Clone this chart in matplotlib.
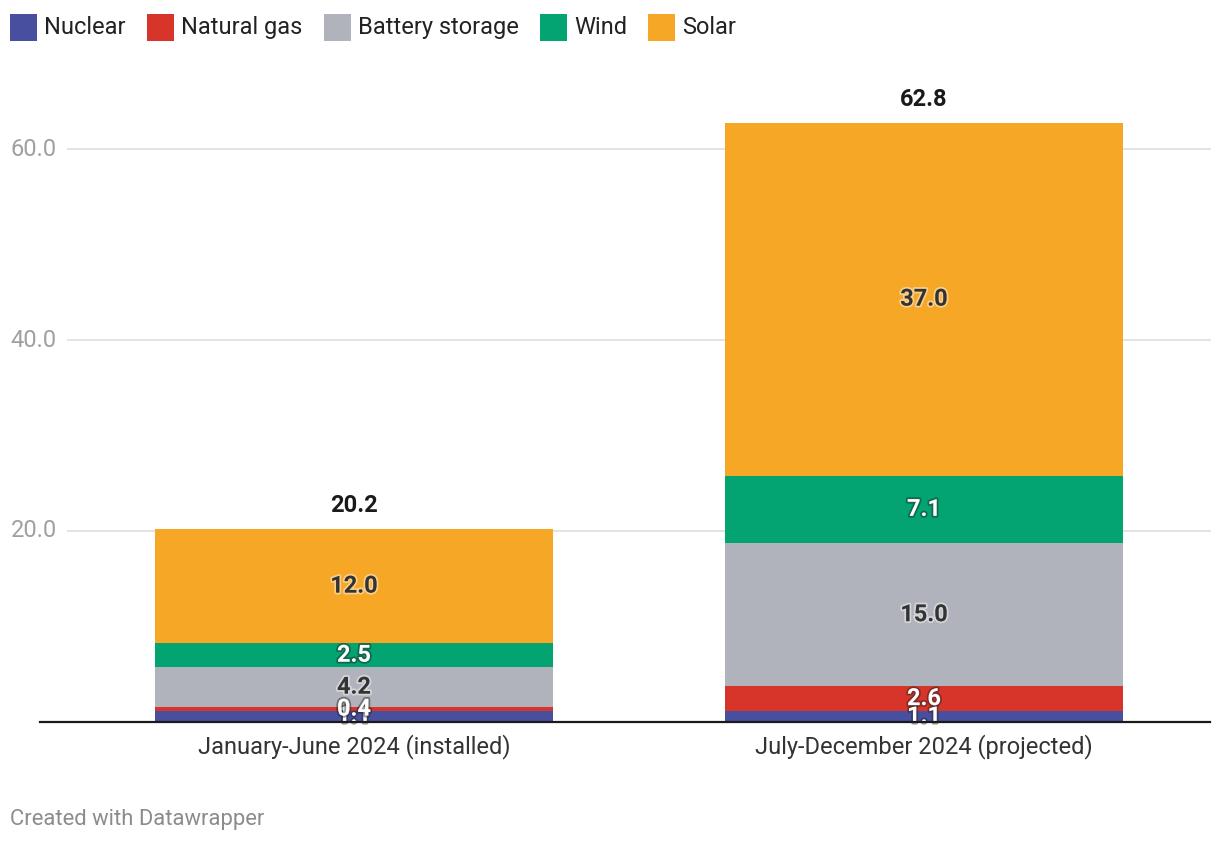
import matplotlib
matplotlib.use("Agg")
import matplotlib.pyplot as plt
import matplotlib.patheffects as pe
from matplotlib.patches import Rectangle
import numpy as np

plt.rcParams['font.family'] = ['Roboto', 'DejaVu Sans']

categories = ["January-June 2024 (installed)", "July-December 2024 (projected)"]
series_names = ["Nuclear", "Natural gas", "Battery storage", "Wind", "Solar"]
nuclear = [1.1, 1.1]
natural_gas = [0.4, 2.6]
battery = [4.2, 15.0]
wind = [2.5, 7.1]
solar = [12.0, 37.0]
yticks = [20.0, 40.0, 60.0]

series_values = [nuclear, natural_gas, battery, wind, solar]
colors = ["#484f9f", "#d7352a", "#b0b3bb", "#03a372", "#f5a725"]
dark_bg = [True, True, False, True, False]

W, H = 1220, 844
fig = plt.figure(figsize=(W / 100, H / 100), dpi=100)

def px(x, y):
    return x / W, 1 - y / H

base_px = 721.5
ymax = 66
top_px = base_px - ymax * (572 / 60)
ax = fig.add_axes([40 / W, (H - base_px) / H, 1170 / W, (base_px - top_px) / H])
ax.set_xlim(-(354 - 40) / 570, 1 + (1210 - 924) / 570)
ax.set_ylim(0, ymax)
ax.axis('off')

# gridlines
gx0 = (68 - 40) / 1170
for t in yticks:
    ax.plot([gx0, 1], [t, t], transform=ax.get_yaxis_transform(), color="#e3e3e3",
            lw=1.4, zorder=0, clip_on=False)
    ax.text(-(40 - 57) / 1170, t, f"{t:.1f}", transform=ax.get_yaxis_transform(),
            ha='right', va='center', fontsize=17, color="#a0a0a0")

x = np.arange(len(categories))
bw = 398 / 570
bottom = np.zeros(len(categories))
for vals, col, dk in zip(series_values, colors, dark_bg):
    vals = np.array(vals)
    ax.bar(x, vals, bw, bottom=bottom, color=col, zorder=2)
    for i, v in enumerate(vals):
        if dk:
            tc, hc = "white", "#222222"
        else:
            tc, hc = "#333333", "white"
        ax.text(x[i], bottom[i] + v / 2, f"{v:.1f}", ha='center', va='center',
                fontsize=17, fontweight='bold', color=tc, zorder=5,
                path_effects=[pe.withStroke(linewidth=2.6, foreground=hc, alpha=0.45)])
    bottom += vals

for i, tot in enumerate(bottom):
    ax.annotate(f"{tot:.1f}", (x[i], tot), xytext=(0, 23), textcoords='offset pixels',
                ha='center', va='center', fontsize=17, fontweight='bold', color="#1a1a1a")

# baseline
ax.plot([0, 1], [0, 0], transform=ax.get_yaxis_transform(), color="#1a1a1a", lw=1.6,
        zorder=6, clip_on=False)

for i, c in enumerate(categories):
    ax.annotate(c, (x[i], 0), xytext=(0, -25), textcoords='offset pixels',
                ha='center', va='center', fontsize=17, color="#333333")

# legend
leg_sq = [10, 147, 324, 540, 648]
for name, col, sx in zip(series_names, colors, leg_sq):
    fig.patches.append(Rectangle(px(sx, 41), 27 / W, 27 / H, transform=fig.transFigure,
                                 facecolor=col, edgecolor='none'))
    fig.text(*px(sx + 34, 27.5), name, ha='left', va='center', fontsize=17, color="#222222")

fig.text(*px(10, 819), "Created with Datawrapper", ha='left', va='center', fontsize=15.8,
         color="#8c8c8c")

fig.savefig("out.png", dpi=100, facecolor='white')
